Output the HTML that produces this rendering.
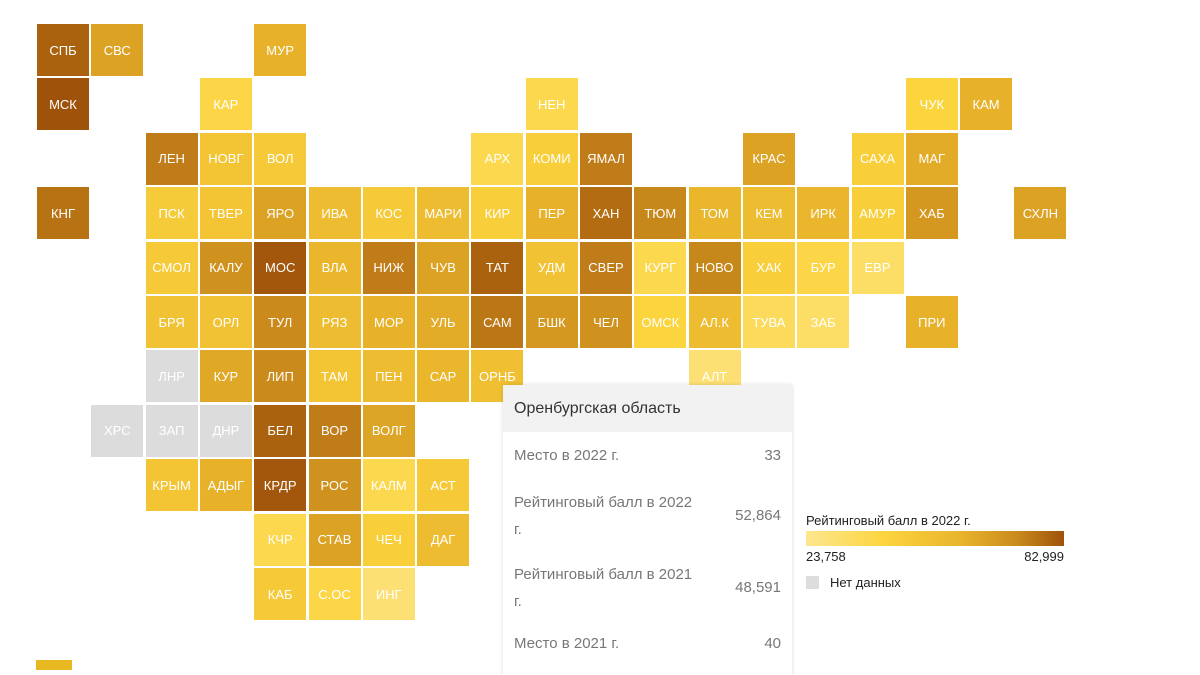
<!DOCTYPE html>
<html><head><meta charset="utf-8">
<style>
body{margin:0;width:1200px;height:667px;overflow:hidden;background:#fff;font-family:"Liberation Sans","DejaVu Sans",sans-serif;position:relative}
.tile{position:absolute;width:52px;height:52px;color:#fff;font-size:13px;display:flex;align-items:center;justify-content:center}
#tip{position:absolute;left:503px;top:385px;width:289px;height:290px;background:#fff;box-shadow:0 0 4px rgba(0,0,0,.15);color:#777;font-size:15px}
#tip .hd{background:#f2f2f2;height:47px;line-height:47px;padding-left:11px;color:#333;font-size:16px}
.row{position:absolute;left:11px;right:11px}
.row .v{position:absolute;right:0}
</style></head><body>
<div id="map"></div>
<div class="tile" style="left:36px;top:660px;width:36px;height:10px;background:#e8b820"></div>
<div id="tip">
<div class="hd">Оренбургская область</div>
<div class="row" style="top:62px">Место в 2022 г.<span class="v">33</span></div>
<div class="row" style="top:104px;line-height:27px">Рейтинговый балл в 2022<br>г.<span class="v" style="top:13px">52,864</span></div>
<div class="row" style="top:176px;line-height:27px">Рейтинговый балл в 2021<br>г.<span class="v" style="top:13px">48,591</span></div>
<div class="row" style="top:250px">Место в 2021 г.<span class="v">40</span></div>
</div>
<div style="position:absolute;left:806px;top:513px;width:258px;font-size:13px;color:#222">
<div>Рейтинговый балл в 2022 г.</div>
<div style="margin-top:3px;height:15px;background:linear-gradient(90deg,#fde68f,#fcd53f 30%,#e9b42b 60%,#c98a1c 82%,#9f520a)"></div>
<div style="position:relative;height:18px;margin-top:3px"><span>23,758</span><span style="position:absolute;right:0">82,999</span></div>
<div style="margin-top:8px;display:flex;align-items:center"><span style="width:13px;height:13px;background:#ddd;display:inline-block;margin-right:11px"></span><span>Нет данных</span></div>
</div>
<script>
const names=["СПБ","СВС","МУР","МСК","КАР","НЕН","ЧУК","КАМ","ЛЕН","НОВГ","ВОЛ","АРХ","КОМИ","ЯМАЛ","КРАС","САХА","МАГ","КНГ","ПСК","ТВЕР","ЯРО","ИВА","КОС","МАРИ","КИР","ПЕР","ХАН","ТЮМ","ТОМ","КЕМ","ИРК","АМУР","ХАБ","СХЛН","СМОЛ","КАЛУ","МОС","ВЛА","НИЖ","ЧУВ","ТАТ","УДМ","СВЕР","КУРГ","НОВО","ХАК","БУР","ЕВР","БРЯ","ОРЛ","ТУЛ","РЯЗ","МОР","УЛЬ","САМ","БШК","ЧЕЛ","ОМСК","АЛ.К","ТУВА","ЗАБ","ПРИ","ЛНР","КУР","ЛИП","ТАМ","ПЕН","САР","ОРНБ","АЛТ","ХРС","ЗАП","ДНР","БЕЛ","ВОР","ВОЛГ","КРЫМ","АДЫГ","КРДР","РОС","КАЛМ","АСТ","КЧР","СТАВ","ЧЕЧ","ДАГ","КАБ","С.ОС","ИНГ"];
const cols=[0,1,4,0,3,9,16,17,2,3,4,8,9,10,13,15,16,0,2,3,4,5,6,7,8,9,10,11,12,13,14,15,16,18,2,3,4,5,6,7,8,9,10,11,12,13,14,15,2,3,4,5,6,7,8,9,10,11,12,13,14,16,2,3,4,5,6,7,8,12,1,2,3,4,5,6,2,3,4,5,6,7,4,5,6,7,4,5,6];
const rows=[0,0,0,1,1,1,1,1,2,2,2,2,2,2,2,2,2,3,3,3,3,3,3,3,3,3,3,3,3,3,3,3,3,3,4,4,4,4,4,4,4,4,4,4,4,4,4,4,5,5,5,5,5,5,5,5,5,5,5,5,5,5,6,6,6,6,6,6,6,6,7,7,7,7,7,7,8,8,8,8,8,8,9,9,9,9,10,10,10];
const scores=[80,65,60,83,40,38,42,60,75,50,48,38,45,75,65,45,62,77,47,50,65,55,48,55,45,60,78,73,58,55,58,45,68,65,48,70,82,58,75,65,80,52,75,38,73,45,40,33,52,52,72,55,60,62,76,68,70,42,55,35,33,60,null,63,72,50,55,58,52.864,30,null,null,null,80,75,64,50,60,82,70,38,48,38,65,45,55,48,40,30];
const minV=23.758,maxV=82.999;
const stops=[[0,[253,230,143]],[0.3,[252,213,63]],[0.6,[233,180,43]],[0.82,[201,138,28]],[1,[159,82,10]]];
function color(v){if(v===null)return '#dcdcdc';let t=(v-minV)/(maxV-minV);t=Math.max(0,Math.min(1,t));
for(let i=1;i<stops.length;i++){if(t<=stops[i][0]){const a=stops[i-1],b=stops[i];const f=(t-a[0])/(b[0]-a[0]);return 'rgb('+a[1].map((c,k)=>Math.round(c+(b[1][k]-c)*f)).join(',')+')';}}return '#9f520a';}
const xOf=c=>37+c*54.3, yOf=r=>24+r*54.4;
const map=document.getElementById('map');
names.forEach((n,i)=>{const d=document.createElement('div');d.className='tile';


d.style.left=xOf(cols[i])+'px';d.style.top=yOf(rows[i])+'px';d.style.background=color(scores[i]);d.textContent=n;map.appendChild(d);});
</script>
</body></html>
